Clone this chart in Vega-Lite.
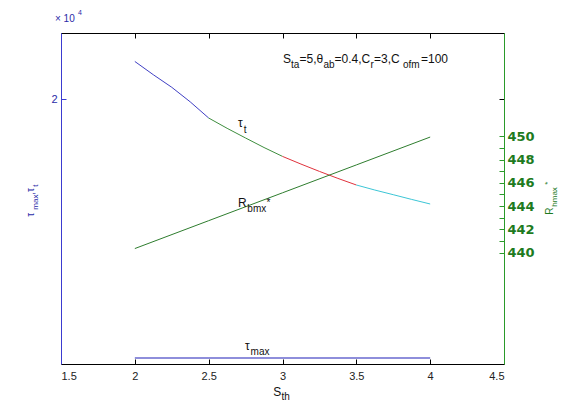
{
  "$schema": "https://vega.github.io/schema/vega-lite/v6.json",
  "width": 443,
  "height": 331,
  "autosize": "none",
  "padding": {"left": 61, "top": 33, "right": 69, "bottom": 37},
  "background": "white",
  "config": {
    "view": {"stroke": null},
    "axis": {"grid": false, "labelFont": "Liberation Sans", "titleFont": "Liberation Sans"}
  },
  "datasets": {
    "taut": [
      {"S": 2.0, "tau": 22850, "seg": "a"},
      {"S": 2.125, "tau": 21850, "seg": "a"},
      {"S": 2.25, "tau": 20900, "seg": "a"},
      {"S": 2.375, "tau": 19800, "seg": "a"},
      {"S": 2.5, "tau": 18580, "seg": "a"},
      {"S": 2.5, "tau": 18580, "seg": "b"},
      {"S": 2.625, "tau": 17800, "seg": "b"},
      {"S": 2.75, "tau": 17069, "seg": "b"},
      {"S": 2.875, "tau": 16350, "seg": "b"},
      {"S": 3.0, "tau": 15680, "seg": "b"},
      {"S": 3.0, "tau": 15680, "seg": "c"},
      {"S": 3.125, "tau": 15100, "seg": "c"},
      {"S": 3.25, "tau": 14547, "seg": "c"},
      {"S": 3.375, "tau": 14020, "seg": "c"},
      {"S": 3.5, "tau": 13520, "seg": "c"},
      {"S": 3.5, "tau": 13520, "seg": "d"},
      {"S": 3.625, "tau": 13140, "seg": "d"},
      {"S": 3.75, "tau": 12787, "seg": "d"},
      {"S": 3.875, "tau": 12430, "seg": "d"},
      {"S": 4.0, "tau": 12085, "seg": "d"}
    ],
    "taumax": [
      {"S": 2.0, "tau": 453},
      {"S": 3.0, "tau": 453},
      {"S": 4.0, "tau": 453}
    ],
    "rb": [
      {"S": 2.0, "R": 440.34},
      {"S": 2.5, "R": 442.74},
      {"S": 3.0, "R": 445.14},
      {"S": 3.5, "R": 447.54},
      {"S": 4.0, "R": 449.94}
    ],
    "notes": [
      {"t": "S", "S": 3.0034, "v": 23059, "role": "m"},
      {"t": "=5,θ", "S": 3.1151, "v": 23059, "role": "m"},
      {"t": "=0.4,C", "S": 3.3521, "v": 23059, "role": "m"},
      {"t": "=3,C", "S": 3.6196, "v": 23059, "role": "m"},
      {"t": "=100", "S": 3.938, "v": 23059, "role": "m"},
      {"t": "τ", "S": 2.699, "v": 18225, "role": "m"},
      {"t": "R", "S": 2.699, "v": 12160, "role": "m"},
      {"t": "τ", "S": 2.746, "v": 1329, "role": "m"},
      {"t": "S", "S": 2.938, "v": -2130, "role": "m"},
      {"t": "ta", "S": 3.0576, "v": 22568, "role": "s"},
      {"t": "ab", "S": 3.2776, "v": 22568, "role": "s"},
      {"t": "r", "S": 3.5959, "v": 22568, "role": "s"},
      {"t": "ofm", "S": 3.816, "v": 22568, "role": "s"},
      {"t": "t", "S": 2.737, "v": 17689, "role": "s"},
      {"t": "bmx", "S": 2.762, "v": 11707, "role": "s"},
      {"t": "*", "S": 2.892, "v": 12150, "role": "s"},
      {"t": "max", "S": 2.784, "v": 929, "role": "s"},
      {"t": "th", "S": 2.9932, "v": -2470, "role": "s"},
      {"t": "× 10", "S": 1.459, "v": 26080, "role": "bm"},
      {"t": "4", "S": 1.615, "v": 26533, "role": "bs"},
      {"t": "τ", "S": 1.297, "v": 11125, "role": "bl"},
      {"t": ",τ", "S": 1.297, "v": 12786, "role": "bl"},
      {"t": "max", "S": 1.331, "v": 11654, "role": "bls"},
      {"t": "t", "S": 1.331, "v": 13391, "role": "bls"},
      {"t": "R", "S": 4.811, "v": 11276, "role": "gl"},
      {"t": "hmax", "S": 4.845, "v": 11881, "role": "gls"},
      {"t": "*", "S": 4.80, "v": 13542, "role": "gls"}
    ]
  },
  "layer": [
    {
      "data": {"name": "taut"},
      "mark": {"type": "line", "strokeWidth": 1},
      "encoding": {
        "x": {"field": "S", "type": "quantitative",
          "scale": {"domain": [1.5, 4.5], "nice": false, "zero": false},
          "axis": {"orient": "bottom", "values": [1.5, 2, 2.5, 3, 3.5, 4, 4.5], "format": "~g", "title": null,
            "domainColor": "#000", "tickColor": "#000", "tickSize": -5, "labelPadding": 11,
            "labelColor": "#222", "labelFontSize": 11}},
        "y": {"field": "tau", "type": "quantitative",
          "scale": {"domain": [0, 25000], "nice": false, "zero": false},
          "axis": {"orient": "left", "values": [20000], "labelExpr": "'2'", "title": null,
            "domainColor": "#3b3bd0", "tickColor": "#3b3bd0", "tickSize": -5, "labelPadding": 9,
            "labelColor": "#2b2ba8", "labelFontSize": 11}},
        "color": {"field": "seg", "type": "nominal",
          "scale": {"domain": ["a", "b", "c", "d"], "range": ["#4040c4", "#3e8e3e", "#e0323c", "#3cc6d6"]},
          "legend": null}
      }
    },
    {
      "data": {"name": "taumax"},
      "mark": {"type": "line", "strokeWidth": 1.2, "color": "#1f1fb8"},
      "encoding": {
        "x": {"field": "S", "type": "quantitative",
          "scale": {"domain": [1.5, 4.5], "nice": false, "zero": false}, "axis": null},
        "y": {"field": "tau", "type": "quantitative",
          "scale": {"domain": [0, 25000], "nice": false, "zero": false},
          "axis": {"orient": "right", "values": [20000], "labels": false, "domain": false, "title": null,
            "tickColor": "#000", "tickSize": -5}}
      }
    },
    {
      "data": {"name": "rb"},
      "mark": {"type": "line", "strokeWidth": 1, "color": "#2e7d2e"},
      "encoding": {
        "x": {"field": "S", "type": "quantitative",
          "scale": {"domain": [1.5, 4.5], "nice": false, "zero": false},
          "axis": {"orient": "top", "values": [1.5, 2, 2.5, 3, 3.5, 4, 4.5], "labels": false, "title": null,
            "domainColor": "#000", "tickColor": "#000", "tickSize": -5}},
        "y": {"field": "R", "type": "quantitative",
          "scale": {"domain": [430.4, 458.9], "nice": false, "zero": false},
          "axis": {"orient": "right", "values": [440, 441, 442, 443, 444, 445, 446, 447, 448, 449, 450],
            "labelExpr": "datum.value % 2 == 0 ? datum.label : ''", "title": null,
            "domainColor": "#2a9a2a", "tickColor": "#2a9a2a", "tickSize": -5, "labelPadding": 8,
            "labelColor": "#1e7b1e", "labelFont": "DejaVu Sans", "labelFontWeight": "bold", "labelFontSize": 13}}
      }
    },
    {
      "data": {"name": "notes"},
      "transform": [{"filter": "datum.role == 'm'"}],
      "mark": {"type": "text", "align": "left", "baseline": "middle", "font": "Liberation Sans", "fontSize": 12, "color": "#111"},
      "encoding": {
        "x": {"field": "S", "type": "quantitative", "scale": {"domain": [1.5, 4.5], "nice": false, "zero": false}, "axis": null},
        "y": {"field": "v", "type": "quantitative", "scale": {"domain": [0, 25000], "nice": false, "zero": false}, "axis": null},
        "text": {"field": "t"}
      }
    },
    {
      "data": {"name": "notes"},
      "transform": [{"filter": "datum.role == 's'"}],
      "mark": {"type": "text", "align": "left", "baseline": "middle", "font": "Liberation Sans", "fontSize": 10, "color": "#111"},
      "encoding": {
        "x": {"field": "S", "type": "quantitative", "scale": {"domain": [1.5, 4.5], "nice": false, "zero": false}, "axis": null},
        "y": {"field": "v", "type": "quantitative", "scale": {"domain": [0, 25000], "nice": false, "zero": false}, "axis": null},
        "text": {"field": "t"}
      }
    },
    {
      "data": {"name": "notes"},
      "transform": [{"filter": "datum.role == 'bm'"}],
      "mark": {"type": "text", "align": "left", "baseline": "middle", "font": "Liberation Sans", "fontSize": 10, "color": "#2b2ba8"},
      "encoding": {
        "x": {"field": "S", "type": "quantitative", "scale": {"domain": [1.5, 4.5], "nice": false, "zero": false}, "axis": null},
        "y": {"field": "v", "type": "quantitative", "scale": {"domain": [0, 25000], "nice": false, "zero": false}, "axis": null},
        "text": {"field": "t"}
      }
    },
    {
      "data": {"name": "notes"},
      "transform": [{"filter": "datum.role == 'bs'"}],
      "mark": {"type": "text", "align": "left", "baseline": "middle", "font": "Liberation Sans", "fontSize": 7, "color": "#2b2ba8"},
      "encoding": {
        "x": {"field": "S", "type": "quantitative", "scale": {"domain": [1.5, 4.5], "nice": false, "zero": false}, "axis": null},
        "y": {"field": "v", "type": "quantitative", "scale": {"domain": [0, 25000], "nice": false, "zero": false}, "axis": null},
        "text": {"field": "t"}
      }
    },
    {
      "data": {"name": "notes"},
      "transform": [{"filter": "datum.role == 'bl'"}],
      "mark": {"type": "text", "align": "left", "baseline": "middle", "angle": 270, "font": "Liberation Sans", "fontSize": 10, "color": "#2b2ba8"},
      "encoding": {
        "x": {"field": "S", "type": "quantitative", "scale": {"domain": [1.5, 4.5], "nice": false, "zero": false}, "axis": null},
        "y": {"field": "v", "type": "quantitative", "scale": {"domain": [0, 25000], "nice": false, "zero": false}, "axis": null},
        "text": {"field": "t"}
      }
    },
    {
      "data": {"name": "notes"},
      "transform": [{"filter": "datum.role == 'bls'"}],
      "mark": {"type": "text", "align": "left", "baseline": "middle", "angle": 270, "font": "Liberation Sans", "fontSize": 8, "color": "#2b2ba8"},
      "encoding": {
        "x": {"field": "S", "type": "quantitative", "scale": {"domain": [1.5, 4.5], "nice": false, "zero": false}, "axis": null},
        "y": {"field": "v", "type": "quantitative", "scale": {"domain": [0, 25000], "nice": false, "zero": false}, "axis": null},
        "text": {"field": "t"}
      }
    },
    {
      "data": {"name": "notes"},
      "transform": [{"filter": "datum.role == 'gl'"}],
      "mark": {"type": "text", "align": "left", "baseline": "middle", "angle": 270, "font": "Liberation Sans", "fontSize": 10, "color": "#1e7b1e"},
      "encoding": {
        "x": {"field": "S", "type": "quantitative", "scale": {"domain": [1.5, 4.5], "nice": false, "zero": false}, "axis": null},
        "y": {"field": "v", "type": "quantitative", "scale": {"domain": [0, 25000], "nice": false, "zero": false}, "axis": null},
        "text": {"field": "t"}
      }
    },
    {
      "data": {"name": "notes"},
      "transform": [{"filter": "datum.role == 'gls'"}],
      "mark": {"type": "text", "align": "left", "baseline": "middle", "angle": 270, "font": "Liberation Sans", "fontSize": 8, "color": "#1e7b1e"},
      "encoding": {
        "x": {"field": "S", "type": "quantitative", "scale": {"domain": [1.5, 4.5], "nice": false, "zero": false}, "axis": null},
        "y": {"field": "v", "type": "quantitative", "scale": {"domain": [0, 25000], "nice": false, "zero": false}, "axis": null},
        "text": {"field": "t"}
      }
    }
  ],
  "resolve": {"scale": {"y": "independent"}, "axis": {"x": "independent", "y": "independent"}}
}
